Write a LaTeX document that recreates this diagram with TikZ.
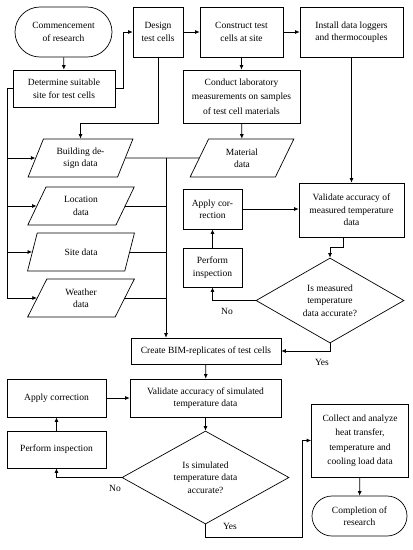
\documentclass[tikz,border=0pt]{standalone}
\usepackage{fontspec}
\setmainfont{Liberation Serif}
\usetikzlibrary{shapes.geometric,shapes.misc,arrows.meta}
\begin{document}
\begin{tikzpicture}[x=1pt,y=-1pt,
  base/.style={draw, line width=0.7pt, align=center, inner sep=1pt,
    font=\fontsize{9.5}{12.5}\selectfont},
  procbox/.style={base, rectangle},
  termbox/.style={base, rounded rectangle},
  databox/.style={base, trapezium, trapezium left angle=66,
    trapezium right angle=114, trapezium stretches=true},
  decbox/.style={base, diamond, inner sep=0pt},
  lbl/.style={font=\fontsize{9.5}{11}\selectfont, inner sep=0pt},
  line/.style={line width=0.7pt},
  arr/.style={line width=0.7pt, -{Latex[length=4.5pt,width=4pt]}}
]
\useasboundingbox (0,0) rectangle (413,550);
% nodes
\node[termbox, minimum width=99, minimum height=50] (comm) at (63.5,32) {Commencement\\of research};
\node[procbox, minimum width=102, minimum height=37] (det) at (64,88.5) {Determine suitable\\site for test cells};
\node[procbox, minimum width=50, minimum height=50] (design) at (158,32) {Design\\test cells};
\node[procbox, minimum width=83, minimum height=50] (construct) at (241.5,32) {Construct test\\cells at site};
\node[procbox, minimum width=103, minimum height=50] (install) at (351.5,32) {Install data loggers\\and thermocouples};
\node[procbox, minimum width=117, minimum height=53, font=\fontsize{9.5}{14.5}\selectfont] (conduct) at (241.5,96.5) {Conduct laboratory\\measurements on samples\\of test cell materials};
\node[databox, minimum width=105, minimum height=38] (building) at (80.5,158) {Building de-\\sign data};
\node[databox, minimum width=104, minimum height=38] (material) at (242,158) {Material\\data};
\node[databox, minimum width=107, minimum height=38] (location) at (81,206) {Location\\data};
\node[databox, minimum width=107, minimum height=38] (site) at (81,252) {Site data};
\node[databox, minimum width=107, minimum height=38] (weather) at (81,298) {Weather\\data};
\node[procbox, minimum width=59, minimum height=40] (applyM) at (212.5,209) {Apply cor-\\rection};
\node[procbox, minimum width=105, minimum height=54] (validM) at (351.5,210) {Validate accuracy of\\measured temperature\\data};
\node[procbox, minimum width=59, minimum height=39] (performM) at (212.5,267.5) {Perform\\inspection};
\node[decbox, shape aspect=1.74, minimum width=148, minimum height=85] (decM) at (330,300.5) {Is measured\\temperature\\data accurate?};
\node[procbox, minimum width=150, minimum height=26] (bim) at (206,351) {Create BIM-replicates of test cells};
\node[procbox, minimum width=99, minimum height=38] (applyS) at (56.5,398) {Apply correction};
\node[procbox, minimum width=151, minimum height=38] (validS) at (205.5,398) {Validate accuracy of simulated\\temperature data};
\node[procbox, minimum width=99, minimum height=37] (performS) at (56.5,449.5) {Perform inspection};
\node[decbox, shape aspect=1.8, minimum width=167, minimum height=93] (decS) at (205.5,477.5) {Is simulated\\temperature data\\accurate?};
\node[procbox, minimum width=97, minimum height=73, font=\fontsize{9.5}{14.5}\selectfont] (collect) at (360,440.5) {Collect and analyze\\heat transfer,\\temperature and\\cooling load data};
\node[termbox, minimum width=97, minimum height=40] (compl) at (359.5,516) {Completion of\\research};
% labels
\node[lbl] (noM) at (227,311) {No};
\node[lbl] (yesM) at (322,362) {Yes};
\node[lbl] (noS) at (115,488) {No};
\node[lbl] (yesS) at (230,526) {Yes};
% helper coordinates
\coordinate (busL) at (7,0);
\coordinate (busR) at (166,0);
\coordinate (yc) at (302,537);
% connectors
\draw[arr] (comm) -- (det);
\draw[arr] (det.east) -- ++(8,0) |- (design.west);
\draw[arr] (design) -- (construct);
\draw[arr] (construct) -- (install);
\draw[arr] (construct) -- (conduct);
\draw[arr] (conduct) -- (material);
\draw[arr] (design.south) -- ++(0,66) -| (building.north);
\draw[line] (det.west) -| (busL |- weather.west);
\draw[arr] (busL |- building.west) -- (building.west);
\draw[arr] (busL |- location.west) -- (location.west);
\draw[arr] (busL |- site.west) -- (site.west);
\draw[arr] (busL |- weather.west) -- (weather.west);
\draw[line] (building.east) -- (material.west);
\draw[line] (location.east) -- (busR |- location.east);
\draw[line] (site.east) -- (busR |- site.east);
\draw[line] (weather.east) -- (busR |- weather.east);
\draw[arr] (busR |- building.east) -- (busR |- bim.north);
\draw[arr] (install) -- (validM);
\draw[arr] (applyM.east) -- (applyM.east -| validM.west);
\draw[arr] ([xshift=-8.5pt]validM.south) -- ++(0,10) -| (decM.north);
\draw[arr] (performM) -- (applyM);
\draw[arr] (decM.west) -| (performM.south);
\draw[arr] (decM.south) |- (bim.east);
\draw[arr] (bim) -- (validS);
\draw[arr] (applyS) -- (validS);
\draw[arr] (performS) -- (applyS);
\draw[arr] (validS) -- (decS);
\draw[arr] (decS.west) -| (performS.south);
\draw[arr] (decS.south) |- (yc) |- (collect.west);
\draw[arr] (collect) -- (compl);
\end{tikzpicture}
\end{document}
